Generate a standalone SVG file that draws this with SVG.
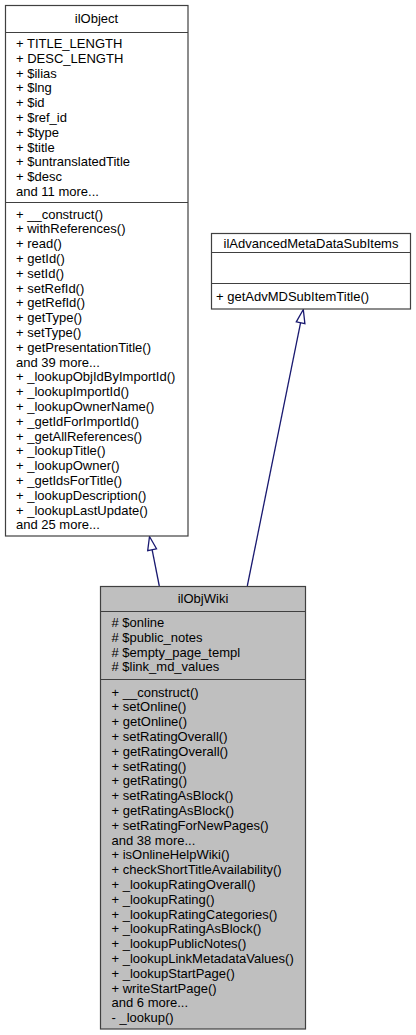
<svg xmlns="http://www.w3.org/2000/svg" width="416" height="1035" viewBox="0 0 416 1035">
<style>
.box{fill:#ffffff;stroke:#404040;stroke-width:1.2}
.main{fill:#bfbfbf;stroke:#404040;stroke-width:1.2}
.sep{stroke:#404040;stroke-width:1.2}
text{font-family:"Liberation Sans",Arial,Helvetica,sans-serif;font-size:13px;fill:#000}
.t{text-anchor:middle}
.edge{stroke:#191970;stroke-width:1.3;fill:none}
.head{stroke:#191970;stroke-width:1.3;fill:#ffffff}
</style>
<g id="connectors">
<line class="edge" x1="159.3" y1="586" x2="152.1" y2="549.7"/>
<polygon class="head" points="149.5,536.5 156.5,548.8 147.7,550.6"/>
<line class="edge" x1="247.3" y1="586" x2="300.6" y2="322.7"/>
<polygon class="head" points="303.3,309.5 304.9,323.6 296.3,321.9"/>
</g>
<g id="ilObject">
<rect class="box" x="5.5" y="5.5" width="182.5" height="530.5"/>
<line class="sep" x1="5.5" y1="32.5" x2="188" y2="32.5"/>
<line class="sep" x1="5.5" y1="202.5" x2="188" y2="202.5"/>
<text class="t" x="96.5" y="23">ilObject</text>
<text x="16" y="47.9">+ TITLE_LENGTH</text>
<text x="16" y="62.7">+ DESC_LENGTH</text>
<text x="16" y="77.5">+ $ilias</text>
<text x="16" y="92.3">+ $lng</text>
<text x="16" y="107.1">+ $id</text>
<text x="16" y="121.9">+ $ref_id</text>
<text x="16" y="136.7">+ $type</text>
<text x="16" y="151.5">+ $title</text>
<text x="16" y="166.3">+ $untranslatedTitle</text>
<text x="16" y="181.1">+ $desc</text>
<text x="16" y="195.9">and 11 more...</text>
<text x="16" y="218.5">+ __construct()</text>
<text x="16" y="233.3">+ withReferences()</text>
<text x="16" y="248.1">+ read()</text>
<text x="16" y="262.9">+ getId()</text>
<text x="16" y="277.7">+ setId()</text>
<text x="16" y="292.5">+ setRefId()</text>
<text x="16" y="307.3">+ getRefId()</text>
<text x="16" y="322.1">+ getType()</text>
<text x="16" y="336.9">+ setType()</text>
<text x="16" y="351.7">+ getPresentationTitle()</text>
<text x="16" y="366.5">and 39 more...</text>
<text x="16" y="381.3">+ _lookupObjIdByImportId()</text>
<text x="16" y="396.1">+ _lookupImportId()</text>
<text x="16" y="410.9">+ _lookupOwnerName()</text>
<text x="16" y="425.7">+ _getIdForImportId()</text>
<text x="16" y="440.5">+ _getAllReferences()</text>
<text x="16" y="455.3">+ _lookupTitle()</text>
<text x="16" y="470.1">+ _lookupOwner()</text>
<text x="16" y="484.9">+ _getIdsForTitle()</text>
<text x="16" y="499.7">+ _lookupDescription()</text>
<text x="16" y="514.5">+ _lookupLastUpdate()</text>
<text x="16" y="529.3">and 25 more...</text>
</g>
<g id="ilAdvancedMetaDataSubItems">
<rect class="box" x="211.5" y="233.5" width="199" height="75.5"/>
<line class="sep" x1="211.5" y1="252.5" x2="410.5" y2="252.5"/>
<line class="sep" x1="211.5" y1="283.5" x2="410.5" y2="283.5"/>
<text class="t" x="311" y="248">ilAdvancedMetaDataSubItems</text>
<text x="216" y="300.5">+ getAdvMDSubItemTitle()</text>
</g>
<g id="ilObjWiki">
<rect class="main" x="100.5" y="586.5" width="205" height="442.5"/>
<line class="sep" x1="100.5" y1="611.5" x2="305.5" y2="611.5"/>
<line class="sep" x1="100.5" y1="679.5" x2="305.5" y2="679.5"/>
<text class="t" x="203" y="603">ilObjWiki</text>
<text x="111.5" y="626.9"># $online</text>
<text x="111.5" y="641.7"># $public_notes</text>
<text x="111.5" y="656.5"># $empty_page_templ</text>
<text x="111.5" y="671.3"># $link_md_values</text>
<text x="111.5" y="696.5">+ __construct()</text>
<text x="111.5" y="711.3">+ setOnline()</text>
<text x="111.5" y="726.1">+ getOnline()</text>
<text x="111.5" y="740.9">+ setRatingOverall()</text>
<text x="111.5" y="755.7">+ getRatingOverall()</text>
<text x="111.5" y="770.5">+ setRating()</text>
<text x="111.5" y="785.3">+ getRating()</text>
<text x="111.5" y="800.1">+ setRatingAsBlock()</text>
<text x="111.5" y="814.9">+ getRatingAsBlock()</text>
<text x="111.5" y="829.7">+ setRatingForNewPages()</text>
<text x="111.5" y="844.5">and 38 more...</text>
<text x="111.5" y="859.3">+ isOnlineHelpWiki()</text>
<text x="111.5" y="874.1">+ checkShortTitleAvailability()</text>
<text x="111.5" y="888.9">+ _lookupRatingOverall()</text>
<text x="111.5" y="903.7">+ _lookupRating()</text>
<text x="111.5" y="918.5">+ _lookupRatingCategories()</text>
<text x="111.5" y="933.3">+ _lookupRatingAsBlock()</text>
<text x="111.5" y="948.1">+ _lookupPublicNotes()</text>
<text x="111.5" y="962.9">+ _lookupLinkMetadataValues()</text>
<text x="111.5" y="977.7">+ _lookupStartPage()</text>
<text x="111.5" y="992.5">+ writeStartPage()</text>
<text x="111.5" y="1007.3">and 6 more...</text>
<text x="111.5" y="1022.1">- _lookup()</text>
</g>
</svg>
